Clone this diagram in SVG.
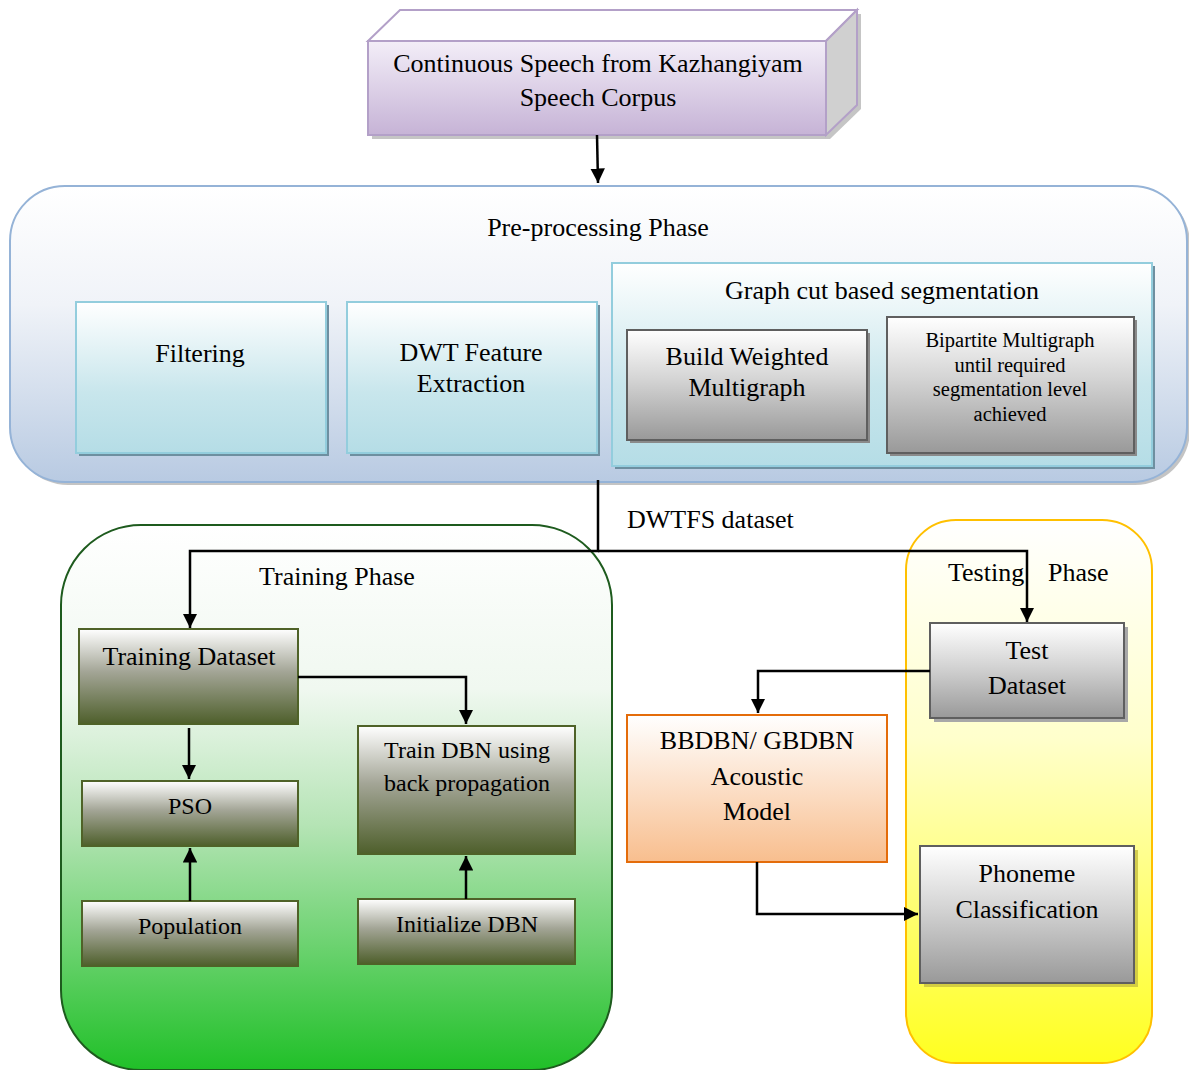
<svg xmlns="http://www.w3.org/2000/svg" width="1189" height="1070" viewBox="0 0 1189 1070">
<defs>
<linearGradient id="gLav" x1="0" y1="0" x2="0" y2="1"><stop offset="0" stop-color="#f3eef8"/><stop offset="1" stop-color="#c6b3d6"/></linearGradient>
<linearGradient id="gBlue" x1="0" y1="0" x2="0" y2="1"><stop offset="0" stop-color="#ffffff"/><stop offset="0.4" stop-color="#f0f3f8"/><stop offset="1" stop-color="#b8cae2"/></linearGradient>
<linearGradient id="gCyan" x1="0" y1="0" x2="0" y2="1"><stop offset="0" stop-color="#ffffff"/><stop offset="0.6" stop-color="#c8e6ec"/><stop offset="1" stop-color="#b5dde6"/></linearGradient>
<linearGradient id="gGrey" x1="0" y1="0" x2="0" y2="1"><stop offset="0" stop-color="#ffffff"/><stop offset="0.45" stop-color="#d4d4d4"/><stop offset="1" stop-color="#999999"/></linearGradient>
<linearGradient id="gOlive" x1="0" y1="0" x2="0" y2="1"><stop offset="0" stop-color="#ffffff"/><stop offset="0.45" stop-color="#a3a596"/><stop offset="1" stop-color="#4e5f2b"/></linearGradient>
<linearGradient id="gGreen" x1="0" y1="0" x2="0" y2="1"><stop offset="0" stop-color="#ffffff"/><stop offset="0.3" stop-color="#f0f8f0"/><stop offset="0.55" stop-color="#b5e4b5"/><stop offset="1" stop-color="#20c028"/></linearGradient>
<linearGradient id="gYellow" x1="0" y1="0" x2="0" y2="1"><stop offset="0" stop-color="#ffffff"/><stop offset="0.4" stop-color="#ffffcc"/><stop offset="1" stop-color="#ffff20"/></linearGradient>
<linearGradient id="gOrange" x1="0" y1="0" x2="0" y2="1"><stop offset="0" stop-color="#ffffff"/><stop offset="1" stop-color="#f8be8e"/></linearGradient>
<marker id="arr" viewBox="0 0 10 10" refX="10" refY="5" markerWidth="5.8" markerHeight="5.8" orient="auto" markerUnits="strokeWidth"><path d="M0,0 L10,5 L0,10 z" fill="#000"/></marker>
</defs>
<style>
text{font-family:"Liberation Serif","Times New Roman",serif;fill:#000;text-anchor:middle}
.t26{font-size:26px}.t24{font-size:24px}.t21{font-size:20.5px}
.cyan{fill:url(#gCyan);stroke:#93cddd;stroke-width:2}
.grey{fill:url(#gGrey);stroke:#5f5f5f;stroke-width:2}
.olive{fill:url(#gOlive);stroke:#4f6228;stroke-width:2}
.conn{fill:none;stroke:#000;stroke-width:2.5}
</style>
<rect width="1189" height="1070" fill="#fff"/>

<g id="corpus">
<polygon points="372,45 404,14 861,14 861,109 830,139 372,139" fill="#8c8c8c" opacity="0.5"/>
<polygon points="368,41 400,10 857,10 826,41" fill="#ffffff" stroke="#b3a0c8" stroke-width="2"/>
<polygon points="826,41 857,10 857,105 826,135" fill="#d0d0d0" stroke="#b3a0c8" stroke-width="2"/>
<rect x="368" y="41" width="458" height="94" fill="url(#gLav)" stroke="#b3a0c8" stroke-width="2"/>
<text class="t26" x="598" y="72">Continuous Speech from Kazhangiyam</text>
<text class="t26" x="598" y="106">Speech Corpus</text>
</g>

<g id="preprocessing">
<rect x="13" y="189" width="1177" height="296" rx="55" fill="#8a8a8a" opacity="0.5"/>
<rect x="10" y="186" width="1177" height="296" rx="55" fill="url(#gBlue)" stroke="#95b3d7" stroke-width="2"/>
<text class="t26" x="598" y="236">Pre-processing Phase</text>
</g>
<g id="filtering">
<rect x="79" y="305" width="250" height="151" fill="#6e8fa0"/>
<rect x="76" y="302" width="250" height="151" class="cyan"/>
<text class="t26" x="200" y="362">Filtering</text>
</g>
<g id="dwt">
<rect x="350" y="305" width="250" height="151" fill="#6e8fa0"/>
<rect x="347" y="302" width="250" height="151" class="cyan"/>
<text class="t26" x="471" y="361">DWT Feature</text>
<text class="t26" x="471" y="392">Extraction</text>
</g>
<g id="graphcut">
<rect x="615" y="266" width="540" height="203" fill="#6e8fa0"/>
<rect x="612" y="263" width="540" height="203" class="cyan"/>
<text class="t26" x="882" y="299">Graph cut based segmentation</text>
</g>
<g id="buildweighted">
<rect x="630" y="333" width="240" height="110" fill="#8a8a8a"/>
<rect x="627" y="330" width="240" height="110" class="grey"/>
<text class="t26" x="747" y="365">Build Weighted</text>
<text class="t26" x="747" y="396">Multigraph</text>
</g>
<g id="bipartite">
<rect x="890" y="320" width="247" height="136" fill="#8a8a8a"/>
<rect x="887" y="317" width="247" height="136" class="grey"/>
<text class="t21" x="1010" y="347">Bipartite Multigraph</text>
<text class="t21" x="1010" y="372">until required</text>
<text class="t21" x="1010" y="396">segmentation level</text>
<text class="t21" x="1010" y="421">achieved</text>
</g>

<g id="training">
<rect x="61" y="525" width="551" height="545" rx="80" fill="url(#gGreen)" stroke="#1e5b1e" stroke-width="2"/>
<text class="t26" x="337" y="585">Training Phase</text>
</g>
<g id="trainingdataset">
<rect x="79" y="629" width="219" height="95" class="olive"/>
<text class="t26" x="189" y="665">Training Dataset</text>
</g>
<g id="pso">
<rect x="82" y="781" width="216" height="65" class="olive"/>
<text class="t24" x="190" y="814">PSO</text>
</g>
<g id="population">
<rect x="82" y="901" width="216" height="65" class="olive"/>
<text class="t24" x="190" y="934">Population</text>
</g>
<g id="traindbn">
<rect x="358" y="726" width="217" height="128" class="olive"/>
<text class="t24" x="467" y="758">Train DBN using</text>
<text class="t24" x="467" y="791">back propagation</text>
</g>
<g id="initdbn">
<rect x="358" y="899" width="217" height="65" class="olive"/>
<text class="t24" x="467" y="932">Initialize DBN</text>
</g>

<g id="testing">
<rect x="906" y="520" width="246" height="543" rx="50" fill="url(#gYellow)" stroke="#ffc000" stroke-width="2"/>
<text class="t26" x="948" y="581" style="text-anchor:start">Testing</text>
<text class="t26" x="1048" y="581" style="text-anchor:start">Phase</text>
</g>
<g id="testdataset">
<rect x="934" y="627" width="194" height="95" fill="#a8a8a8"/>
<rect x="930" y="623" width="194" height="95" class="grey" stroke="#6a6a6a"/>
<text class="t26" x="1027" y="659">Test</text>
<text class="t26" x="1027" y="694">Dataset</text>
</g>
<g id="acoustic">
<rect x="627" y="715" width="260" height="147" fill="url(#gOrange)" stroke="#e46c0a" stroke-width="2"/>
<text class="t26" x="757" y="749">BBDBN/ GBDBN</text>
<text class="t26" x="757" y="785">Acoustic</text>
<text class="t26" x="757" y="820">Model</text>
</g>
<g id="phoneme">
<rect x="924" y="850" width="214" height="137" fill="#c8c040" opacity="0.8"/>
<rect x="920" y="846" width="214" height="137" class="grey" stroke="#6a6a6a"/>
<text class="t26" x="1027" y="882">Phoneme</text>
<text class="t26" x="1027" y="918">Classification</text>
</g>

<g id="connectors">
<path class="conn" d="M597,135 L598,183" marker-end="url(#arr)"/>
<path class="conn" d="M598,480 L598,551 L190,551 L190,628" marker-end="url(#arr)"/>
<path class="conn" d="M598,551 L1027,551 L1027,622" marker-end="url(#arr)"/>
<text class="t26" x="627" y="528" style="text-anchor:start">DWTFS dataset</text>
<path class="conn" d="M189,728 L189,779" marker-end="url(#arr)"/>
<path class="conn" d="M190,901 L190,848" marker-end="url(#arr)"/>
<path class="conn" d="M466,899 L466,856" marker-end="url(#arr)"/>
<path class="conn" d="M298,677 L466,677 L466,724" marker-end="url(#arr)"/>
<path class="conn" d="M930,671 L758,671 L758,713" marker-end="url(#arr)"/>
<path class="conn" d="M757,862 L757,914 L918,914" marker-end="url(#arr)"/>
</g>
</svg>
